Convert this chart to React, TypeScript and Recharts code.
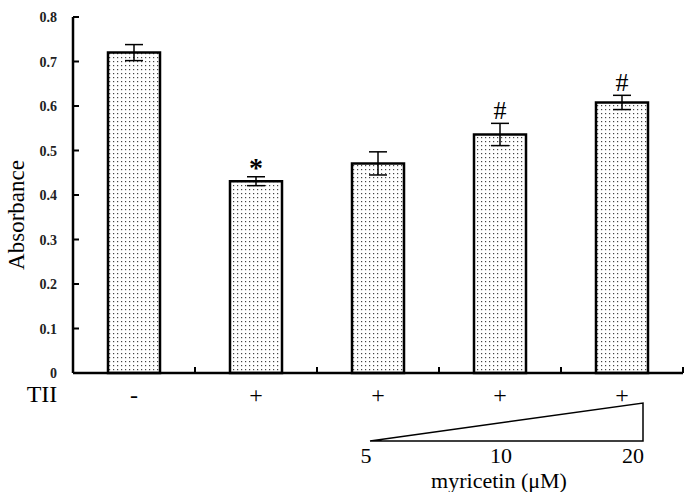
import React from "react";
import { ComposedChart, Bar, XAxis, YAxis, ErrorBar, LabelList } from "recharts";

const groups = ["-", "+", "+", "+", "+"];
const absorbance = [0.72, 0.431, 0.471, 0.536, 0.608];
const errors = [0.018, 0.01, 0.026, 0.025, 0.016];
const marks = ["", "*", "", "#", "#"];
const yTicks = [0, 0.1, 0.2, 0.3, 0.4, 0.5, 0.6, 0.7, 0.8];
const doses = ["5", "10", "20"];

const data = groups.map((g, i) => ({
  id: i,
  tii: g,
  value: absorbance[i],
  err: errors[i],
  mark: marks[i],
}));

const W = 693;
const H = 492;
const LEFT = 73;
const RIGHT = 683;
const TOP = 17;
const BOTTOM = 373;
const BAND = (RIGHT - LEFT) / groups.length;
const PX_PER_UNIT = (BOTTOM - TOP) / 0.8;
const serif = { fontFamily: "Liberation Serif, DejaVu Serif, serif" };

function YTick(props: any) {
  const { x, y, payload } = props;
  const v = payload.value;
  return (
    <g>
      <line x1={x} x2={x + 6} y1={y} y2={y} stroke="#000" strokeWidth={2} />
      <text
        x={x - 16}
        y={y + 5}
        textAnchor="end"
        style={{ ...serif, fontSize: 14, fontWeight: "bold" }}
        fill="#222"
      >
        {v === 0 ? "0" : v.toFixed(1)}
      </text>
    </g>
  );
}

function XTick(props: any) {
  const { x, y, index } = props;
  return (
    <g>
      <line x1={x + BAND / 2} x2={x + BAND / 2} y1={y} y2={y - 6} stroke="#000" strokeWidth={2} />
      <text x={x} y={y + 30} textAnchor="middle" style={{ ...serif, fontSize: 24 }} fill="#000">
        {groups[index]}
      </text>
    </g>
  );
}

function MarkLabel(props: any) {
  const { x, y, width, value, index } = props;
  if (!value) return null;
  const top = y - errors[index] * PX_PER_UNIT;
  const star = value === "*";
  return (
    <text
      x={x + width / 2}
      y={top - (star ? 0 : 4)}
      textAnchor="middle"
      style={{ ...serif, fontSize: star ? 28 : 26, fontWeight: star ? "bold" : "normal" }}
      fill="#000"
    >
      {value}
    </text>
  );
}

export default function App() {
  // wedge under the last three bars (myricetin dose)
  const wedgeLeft = LEFT + 2.5 * BAND - 8;
  const wedgeRight = LEFT + 4.5 * BAND + 21;
  const wedgeBase = 441;
  const wedgeTop = 403;
  const doseX = [wedgeLeft - 4, LEFT + 3.5 * BAND + 1, wedgeRight - 10];

  return (
    <div style={{ position: "absolute", left: 0, top: 0, width: W, height: H, background: "#fff" }}>
      <ComposedChart
        width={W}
        height={H}
        data={data}
        margin={{ top: TOP, right: W - RIGHT, left: 0, bottom: H - BOTTOM - 40 }}
      >
        <defs>
          <pattern id="dots" width="4" height="4" patternUnits="userSpaceOnUse">
            <rect width="4" height="4" fill="#fff" />
            <rect x="1" y="1" width="1.2" height="1.2" fill="#444" />
          </pattern>
        </defs>
        <XAxis
          dataKey="id"
          height={40}
          tickSize={0}
          tickMargin={0}
          tickLine={false}
          axisLine={{ stroke: "#000", strokeWidth: 2.5 }}
          tick={<XTick />}
          interval={0}
        />
        <YAxis
          width={LEFT}
          domain={[0, 0.8]}
          ticks={yTicks}
          tickSize={0}
          tickMargin={0}
          tickLine={false}
          axisLine={{ stroke: "#000", strokeWidth: 2.5 }}
          tick={<YTick />}
          interval={0}
        />
        <Bar
          dataKey="value"
          barSize={52}
          fill="url(#dots)"
          stroke="#000"
          strokeWidth={2.5}
          isAnimationActive={false}
        >
          <ErrorBar dataKey="err" width={9} stroke="#000" strokeWidth={1.5} isAnimationActive={false} />
          <LabelList dataKey="mark" content={<MarkLabel />} />
        </Bar>
      </ComposedChart>
      <svg
        width={W}
        height={H}
        style={{ position: "absolute", left: 0, top: 0, pointerEvents: "none" }}
      >
        <text
          transform="translate(24,215) rotate(-90)"
          textAnchor="middle"
          style={{ ...serif, fontSize: 23 }}
          fill="#000"
        >
          Absorbance
        </text>
        <text x={42} y={402} textAnchor="middle" style={{ ...serif, fontSize: 24 }} fill="#000">
          TII
        </text>
        <polygon
          points={`${wedgeLeft},${wedgeBase} ${wedgeRight},${wedgeTop} ${wedgeRight},${wedgeBase}`}
          fill="none"
          stroke="#000"
          strokeWidth={1.5}
        />
        {doses.map((d, i) => (
          <text key={d} x={doseX[i]} y={463} textAnchor="middle" style={{ ...serif, fontSize: 22 }} fill="#000">
            {d}
          </text>
        ))}
        <text x={499} y={488} textAnchor="middle" style={{ ...serif, fontSize: 22 }} fill="#000">
          myricetin (μM)
        </text>
      </svg>
    </div>
  );
}
